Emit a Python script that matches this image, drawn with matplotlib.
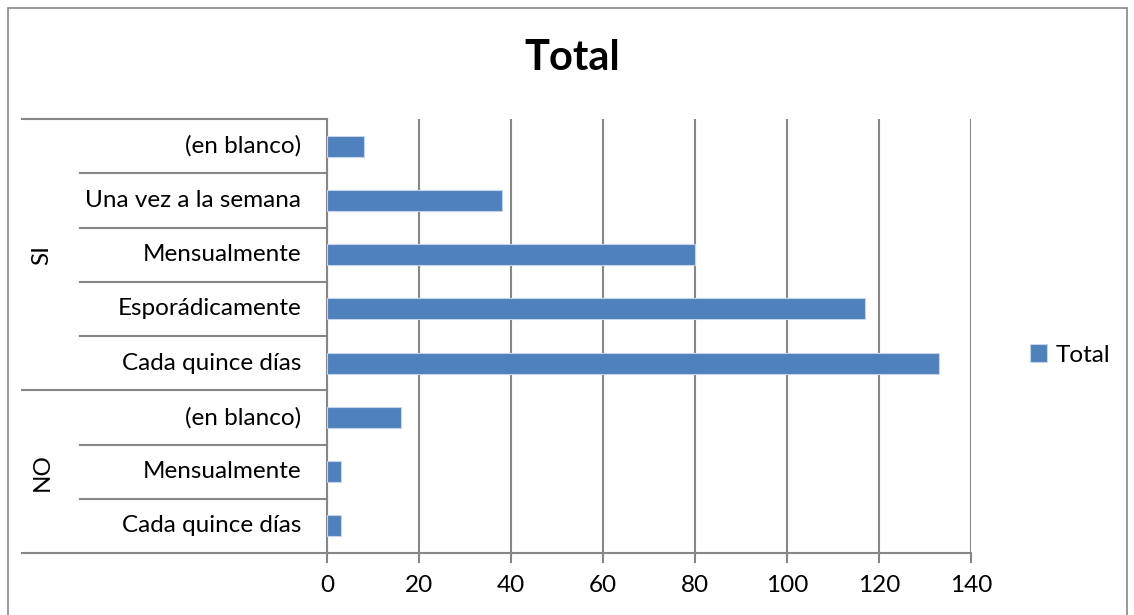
import matplotlib.pyplot as plt
from matplotlib.patches import Rectangle
import matplotlib.transforms as mtransforms

plt.rcParams['font.family'] = ['Lato', 'DejaVu Sans']

# pivot table rows, top to bottom
grupos = ['SI', 'NO']
cats_si = ['(en blanco)', 'Una vez a la semana', 'Mensualmente',
           'Esporádicamente', 'Cada quince días']
vals_si = [8, 38, 80, 117, 133]
cats_no = ['(en blanco)', 'Mensualmente', 'Cada quince días']
vals_no = [16, 3, 3]

labels = cats_si + cats_no
values = vals_si + vals_no
n = len(labels)
ypos = list(range(n - 1, -1, -1))

blue = '#4F81BD'
grey = '#868686'
fs = 17.5

fig = plt.figure(figsize=(11.34, 6.15), dpi=100)
ax = fig.add_axes([0.2884, 0.1008, 0.5679, 0.7057])

ax.barh(ypos, values, height=0.39, color=blue, edgecolor='#c6d4ea',
        linewidth=0.8, label='Total', zorder=3)

ax.set_xlim(0, 140)
ax.set_ylim(-0.5, n - 0.5)
ax.set_xticks(range(0, 141, 20))
ax.xaxis.grid(True, color=grey, linewidth=1.5, zorder=0)
ax.tick_params(axis='x', length=7, width=1.5, color=grey, labelsize=fs,
               pad=9)
ax.set_yticks([])
for s in ['top', 'right']:
    ax.spines[s].set_visible(False)
for s in ['left', 'bottom']:
    ax.spines[s].set_color(grey)
    ax.spines[s].set_linewidth(1.5)

# category labels and the separator lines of the two-level axis
trans = mtransforms.blended_transform_factory(fig.transFigure, ax.transData)
lab_trans = mtransforms.blended_transform_factory(ax.transAxes, ax.transData)
for y, lab in zip(ypos, labels):
    ax.text(-0.04, y, lab, transform=lab_trans, ha='right', va='center',
            fontsize=fs)

n_si = len(cats_si)
for i in range(n + 1):
    yb = n - 0.5 - i
    outer = i in (0, n_si, n)
    x0 = 22 / 1134 if outer else 80 / 1134
    ax.plot([x0, 0.2884], [yb, yb], transform=trans, color=grey,
            linewidth=1.5, clip_on=False)

# group labels
centers = [n - 0.5 - n_si / 2, (n - n_si) / 2 - 0.5]
for g, c in zip(grupos, centers):
    ax.text(42 / 1134, c, g, transform=trans, rotation=90, ha='center',
            va='center', fontsize=fs)

fig.text(0.505, 1 - 58 / 615, 'Total', ha='center', va='center',
         fontsize=30, fontweight='bold')

fig.legend(loc='center left', bbox_to_anchor=(1030 / 1134, 1 - 355 / 615),
           frameon=False, fontsize=fs, handlelength=0.7, handleheight=0.7,
           handletextpad=0.35, borderpad=0, borderaxespad=0)

fig.patches.append(Rectangle((8 / 1134, -0.01), 1119 / 1134, 1 - 8 / 615 + 0.01,
                             transform=fig.transFigure, fill=False,
                             edgecolor=grey, linewidth=1.2))

fig.savefig('out.png', dpi=100)
